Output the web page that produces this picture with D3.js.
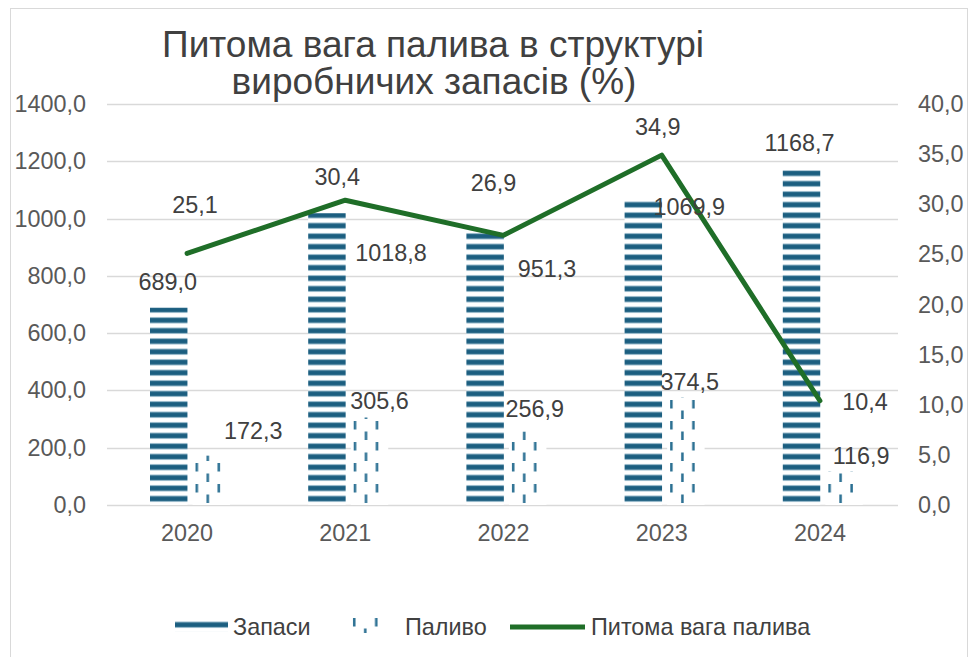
<!DOCTYPE html>
<html>
<head>
<meta charset="utf-8">
<script src="https://cdn.jsdelivr.net/npm/d3@7"></script>
<style>
  body { margin: 0; background: #fff; }
  svg { font-family: "Liberation Sans", Arial, sans-serif; }
</style>
</head>
<body>
<svg width="972" height="657"></svg>
<script>
// data
const years = ["2020", "2021", "2022", "2023", "2024"];
const zapasy = [689.0, 1018.8, 951.3, 1069.9, 1168.7];
const palyvo = [172.3, 305.6, 256.9, 374.5, 116.9];
const share = [25.1, 30.4, 26.9, 34.9, 10.4];
const leftTicks = [0, 200, 400, 600, 800, 1000, 1200, 1400];
const rightTicks = [0, 5, 10, 15, 20, 25, 30, 35, 40];

// label nudges (px) so labels sit where they were in the original
const zapasyOff = [[-1, -26], [64, 40], [62, 36], [46, 8], [-2, -27]];
const palyvoOff = [[42, -25], [10, -16], [7, -22], [4, -16], [17, -16]];
const shareOff = [[8, -48], [-8, -23], [-10, -52], [-4, -28], [45, 1]];

const fmt = v => d3.format(".1f")(v).replace(".", ",");

const svg = d3.select("svg");
const plotTop = 104, plotBottom = 505;
const fs = 23.4;

// frame
svg.append("rect")
  .attr("x", 10.5).attr("y", 8.5).attr("width", 957).attr("height", 660)
  .attr("fill", "#fff").attr("stroke", "#d9d9d9");

// scales
const x = d3.scaleBand().domain(years).range([108, 899]);
const xs = d3.scaleBand().domain(["z", "p"]).range([42, 122]).paddingInner(0.12);
const yL = d3.scaleLinear().domain([0, 1400]).range([plotBottom, plotTop]);
const yR = d3.scaleLinear().domain([0, 40]).range([plotBottom, plotTop]);
const bw = xs.bandwidth();

// patterns
const defs = svg.append("defs");
const pz = defs.append("pattern").attr("id", "pz")
  .attr("patternUnits", "userSpaceOnUse").attr("width", 10).attr("height", 10.5);
pz.append("rect").attr("width", 10).attr("height", 10.5).attr("fill", "#fff");
pz.append("rect").attr("y", 2).attr("width", 10).attr("height", 6.5).attr("fill", "#9fc0d0");
pz.append("rect").attr("y", 3).attr("width", 10).attr("height", 4.5).attr("fill", "#1b5e80");

// dashed columns, drawn relative to each bar's own origin
const pp = defs.append("pattern").attr("id", "pp")
  .attr("patternUnits", "userSpaceOnUse").attr("width", bw).attr("height", 21);
pp.append("rect").attr("width", bw).attr("height", 21).attr("fill", "#fff");
[[3, 1], [14, 11.5], [25, 1]].forEach(([px, py]) => {
  pp.append("rect").attr("x", px).attr("y", py).attr("width", 2.5).attr("height", 8.5).attr("fill", "#2a6f92");
});

// gridlines
svg.append("g").selectAll("line").data(leftTicks).join("line")
  .attr("x1", 107).attr("x2", 898)
  .attr("y1", d => Math.round(yL(d)) + 0.5).attr("y2", d => Math.round(yL(d)) + 0.5)
  .attr("stroke", "#d9d9d9").attr("stroke-width", 1.3);

// axes (labels only)
const axL = svg.append("g").attr("transform", "translate(86,0)")
  .call(d3.axisLeft(yL).tickValues(leftTicks).tickFormat(fmt).tickSize(0).tickPadding(0));
const axR = svg.append("g").attr("transform", "translate(918,0)")
  .call(d3.axisRight(yR).tickValues(rightTicks).tickFormat(fmt).tickSize(0).tickPadding(0));
const axB = svg.append("g").attr("transform", `translate(0,${plotBottom + 28})`)
  .call(d3.axisBottom(x).tickSize(0).tickPadding(0));
[axL, axR, axB].forEach(a => {
  a.select(".domain").remove();
  a.selectAll("text").attr("font-size", fs).attr("fill", "#595959")
    .attr("font-family", "Liberation Sans, Arial, sans-serif");
});
axB.selectAll("text").attr("dy", "0.35em");

// bars
svg.append("g").selectAll("rect").data(years).join("rect")
  .attr("x", d => x(d) + xs("z")).attr("width", bw)
  .attr("y", (d, i) => yL(zapasy[i])).attr("height", (d, i) => plotBottom - yL(zapasy[i]))
  .attr("fill", "url(#pz)");
svg.append("g").selectAll("g").data(years).join("g")
  .attr("transform", d => `translate(${x(d) + xs("p")},0)`)
  .append("rect")
  .attr("width", bw)
  .attr("y", (d, i) => yL(palyvo[i])).attr("height", (d, i) => plotBottom - yL(palyvo[i]))
  .attr("fill", "url(#pp)");

// line
const green = "#1f6e28";
const cx = d => x(d) + x.bandwidth() / 2;
svg.append("path").datum(years)
  .attr("d", d3.line().x(cx).y((d, i) => yR(share[i])))
  .attr("fill", "none").attr("stroke", green).attr("stroke-width", 5)
  .attr("stroke-linejoin", "round").attr("stroke-linecap", "round");

// data labels
const lab = svg.append("g").attr("font-size", fs).attr("fill", "#404040")
  .attr("text-anchor", "middle").attr("dominant-baseline", "central");
years.forEach((yr, i) => {
  const bz = x(yr) + xs("z") + bw / 2;
  const bp = x(yr) + xs("p") + bw / 2;
  lab.append("text").attr("x", bz + zapasyOff[i][0]).attr("y", yL(zapasy[i]) + zapasyOff[i][1]).text(fmt(zapasy[i]));
  lab.append("text").attr("x", bp + palyvoOff[i][0]).attr("y", yL(palyvo[i]) + palyvoOff[i][1]).text(fmt(palyvo[i]));
  lab.append("text").attr("x", cx(yr) + shareOff[i][0]).attr("y", yR(share[i]) + shareOff[i][1]).text(fmt(share[i]));
});

// title
const title = svg.append("text").attr("text-anchor", "middle").attr("font-size", 37)
  .attr("fill", "#404040");
title.append("tspan").attr("x", 433).attr("y", 57).text("Питома вага палива в структурі");
title.append("tspan").attr("x", 434).attr("y", 94).text("виробничих запасів (%)");

// legend
const lg = svg.append("g").attr("font-size", fs).attr("fill", "#404040");
lg.append("rect").attr("x", 175).attr("y", 618).attr("width", 53).attr("height", 14).attr("fill", "url(#pz)");
lg.append("text").attr("x", 233).attr("y", 627).attr("dominant-baseline", "central").text("Запаси");
lg.append("g").attr("transform", "translate(350,617)")
  .append("rect").attr("width", bw).attr("height", 16).attr("fill", "url(#pp)");
lg.append("text").attr("x", 405).attr("y", 627).attr("dominant-baseline", "central").text("Паливо");
lg.append("line").attr("x1", 510).attr("x2", 585).attr("y1", 627).attr("y2", 627)
  .attr("stroke", green).attr("stroke-width", 5);
lg.append("text").attr("x", 591).attr("y", 627).attr("dominant-baseline", "central").text("Питома вага палива");
</script>
</body>
</html>
